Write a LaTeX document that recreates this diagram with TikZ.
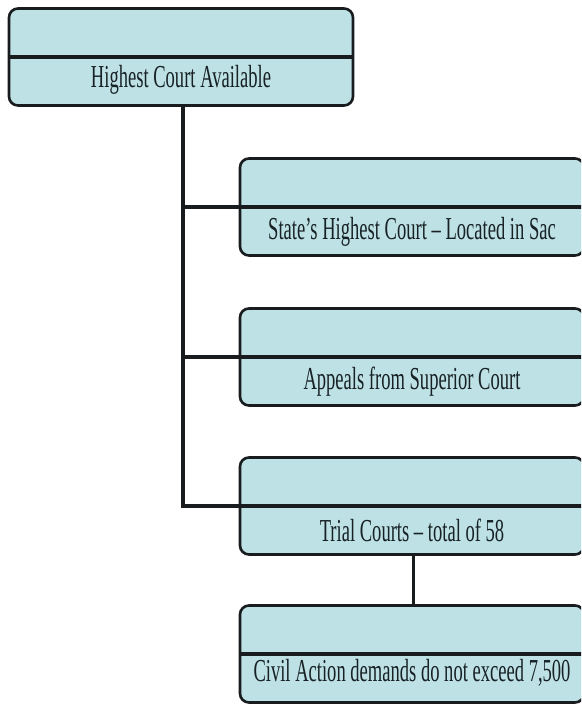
\documentclass[tikz,border=0pt]{standalone}
\usepackage{fontspec}
\setmainfont[FakeStretch=0.58]{Liberation Serif}
\usetikzlibrary{
  calc,        % 坐标计算
  positioning  % 节点相对定位
}
\definecolor{courtfill}{RGB}{189,225,228}
\definecolor{courtline}{RGB}{24,28,30}
\definecolor{courttext}{RGB}{24,34,38}
\tikzset{
  court box/.style={
    draw=courtline,
    line width=2.6pt,
    rounded corners=9pt,
    fill=courtfill,
    minimum width=344pt,
    minimum height=97pt,
    inner sep=0pt
  },
  divider/.style={
    draw=courtline,
    line width=3.6pt
  },
  court text/.style={
    text=courttext,
    font=\fontsize{32}{34}\selectfont,
    inner sep=0pt
  },
  trunk/.style={
    draw=courtline,
    line width=4.2pt
  },
  drop/.style={
    draw=courtline,
    line width=3pt
  }
}

\begin{document}
\begin{tikzpicture}[x=1pt, y=-1pt]
    % 画布大小与裁剪
    \useasboundingbox (0,0) rectangle (581,708);
    \clip (0,0) rectangle (581,708);

    % --- 主干与竖线位置 ---
    \coordinate (spine) at (183,0);
    \coordinate (stem) at (413,0);

    % --- 各级法院方框 (中心在分隔线上) ---
    \node[court box] (top) at (181,57) {};
    \node[court box] (state) at (412,207) {};
    \node[court box] (appeal) at (412,357) {};
    \node[court box] (trial) at (412,506) {};
    \node[court box] (civil) at (412,654) {};

    % 分隔线
    \foreach \b in {top, state, appeal, trial, civil}{
      \draw[divider] (\b.west) -- (\b.east);
    }

    % 文字
    \node[court text] (ttop) at ([yshift=-23pt]top.center) {Highest Court Available};
    \node[court text] (tstate) at ([yshift=-25pt]state.center) {State’s Highest Court – Located in Sac};
    \node[court text] (tappeal) at ([yshift=-25pt]appeal.center) {Appeals from Superior Court};
    \node[court text] (ttrial) at ([yshift=-24pt]trial.center) {Trial Courts – total of 58};
    \node[court text] (tcivil) at ([yshift=-19pt]civil.center) {Civil Action demands do not exceed 7,500};

    % --- 连接线 ---
    \draw[trunk, line cap=rect] (top.south -| spine) |- (trial.west);
    \draw[trunk] (spine |- state.west) -- (state.west);
    \draw[trunk] (spine |- appeal.west) -- (appeal.west);
    \draw[drop] (trial.south -| stem) -- (civil.north -| stem);

  \end{tikzpicture}
\end{document}
